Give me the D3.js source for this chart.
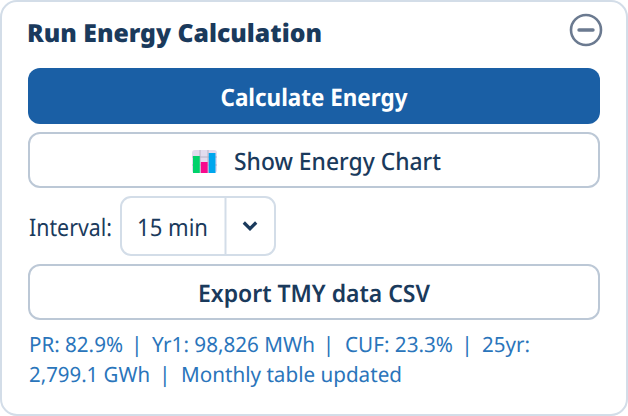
<!DOCTYPE html>
<html><head><meta charset="utf-8">
<script src="https://cdn.jsdelivr.net/npm/d3@7"></script>
<style>html,body{margin:0;padding:0;background:#fff}svg{display:block}text{font-family:"Noto Sans",sans-serif;text-rendering:geometricPrecision}</style>
</head><body><svg id="c" width="628" height="416"></svg>
<script>
const iconCategories = ["a","b","c"];
const iconValues = [17, 11, 20];
const iconColors = ["#00d26a","#f70a8d","#00a6ed"];
const titleText = "Run Energy Calculation";
const calcLabel = "Calculate Energy";
const chartLabel = "Show Energy Chart";
const intervalLabel = "Interval:";
const intervalValue = "15 min";
const exportLabel = "Export TMY data CSV";
const statusRow1 = ["PR: 82.9%","|","Yr1: 98,826 MWh","|","CUF: 23.3%","|","25yr:"];
const statusRow2 = ["2,799.1 GWh","|","Monthly table updated"];

const svg = d3.select("#c");
const ink = "#1a3a5c";
const blue = "#2a75bb";
svg.append("rect").attr("x",1).attr("y",1).attr("width",626).attr("height",414).attr("rx",16)
  .attr("fill","#fff").attr("stroke","#d3dde8").attr("stroke-width",2);
function txt(s,x,y,size,weight,fill,anchor,w){
  const t = svg.append("text").attr("x",x).attr("y",y).attr("font-size",size).attr("font-weight",weight)
    .attr("fill",fill).attr("text-anchor",anchor||"start").style("white-space","pre").text(s);
  if(w) t.attr("textLength",w).attr("lengthAdjust","spacingAndGlyphs");
  return t;
}
txt(titleText,27,41.7,25,900,ink,"start",295);
// collapse icon
svg.append("circle").attr("cx",586).attr("cy",30).attr("r",15).attr("fill","none").attr("stroke","#6b7a90").attr("stroke-width",2.6);
svg.append("line").attr("x1",579).attr("x2",593).attr("y1",30).attr("y2",30).attr("stroke","#6b7a90").attr("stroke-width",3.4).attr("stroke-linecap","round");
// primary
svg.append("rect").attr("x",28).attr("y",68).attr("width",572).attr("height",56).attr("rx",12).attr("fill","#1a5fa5");
txt(calcLabel,314,105.5,24,700,"#fff","middle",187);
// outlined buttons
function outlined(y,h){svg.append("rect").attr("x",29).attr("y",y+1).attr("width",570).attr("height",h-2).attr("rx",11).attr("fill","#fff").attr("stroke","#bcc8d6").attr("stroke-width",2);}
outlined(132,56);
txt(chartLabel,234,169.5,24,500,ink,"start",207);
// icon
const ic = svg.append("g");
ic.append("rect").attr("x",192).attr("y",150).attr("width",25).attr("height",23).attr("rx",3).attr("fill","#e3dbee");
[200,208].forEach(x=>ic.append("line").attr("x1",x).attr("x2",x).attr("y1",150).attr("y2",173).attr("stroke","#b9b2c6"));
[157,165].forEach(y=>ic.append("line").attr("x1",192).attr("x2",217).attr("y1",y).attr("y2",y).attr("stroke","#b9b2c6"));
const ix = d3.scaleBand().domain(iconCategories).range([193,215.5]).paddingInner(0.14);
const iy = d3.scaleLinear().domain([0,23]).range([173,150]);
ic.selectAll("rect.b").data(iconCategories).join("rect").attr("class","b")
  .attr("x",d=>ix(d)).attr("width",ix.bandwidth())
  .attr("y",(d,i)=>iy(iconValues[i])).attr("height",(d,i)=>iy(0)-iy(iconValues[i]))
  .attr("fill",(d,i)=>iconColors[i]);
// interval
txt(intervalLabel,29,235.7,24,400,ink,"start",83);
svg.append("rect").attr("x",121).attr("y",197).attr("width",154).attr("height",58).attr("rx",10).attr("fill","#fff").attr("stroke","#d3dde8").attr("stroke-width",2);
svg.append("line").attr("x1",225.5).attr("x2",225.5).attr("y1",197).attr("y2",255).attr("stroke","#d3dde8").attr("stroke-width",2);
txt(intervalValue,137,235.7,24,400,ink,"start",71);
svg.append("path").attr("d",d3.line()([[243.8,222.5],[250,228.7],[256.2,222.5]])).attr("fill","none").attr("stroke",ink).attr("stroke-width",3.2);
// export
outlined(264,56);
txt(exportLabel,314,301.5,24,600,ink,"middle",232);
// status: separate segments so each stays where the reference has it; pipes are centred
const row1X = [29,136.7,152,328.5,345,467,482], row1W=[94,0,163,0,108,0,48];
const row2X = [29,164.7,181], row2W=[121,0,221];
statusRow1.forEach((s,i)=>txt(s,row1X[i],351.7,21,400,blue,s==="|"?"middle":"start",row1W[i]||null));
statusRow2.forEach((s,i)=>txt(s,row2X[i],381.7,21,400,blue,s==="|"?"middle":"start",row2W[i]||null));
</script></body></html>
